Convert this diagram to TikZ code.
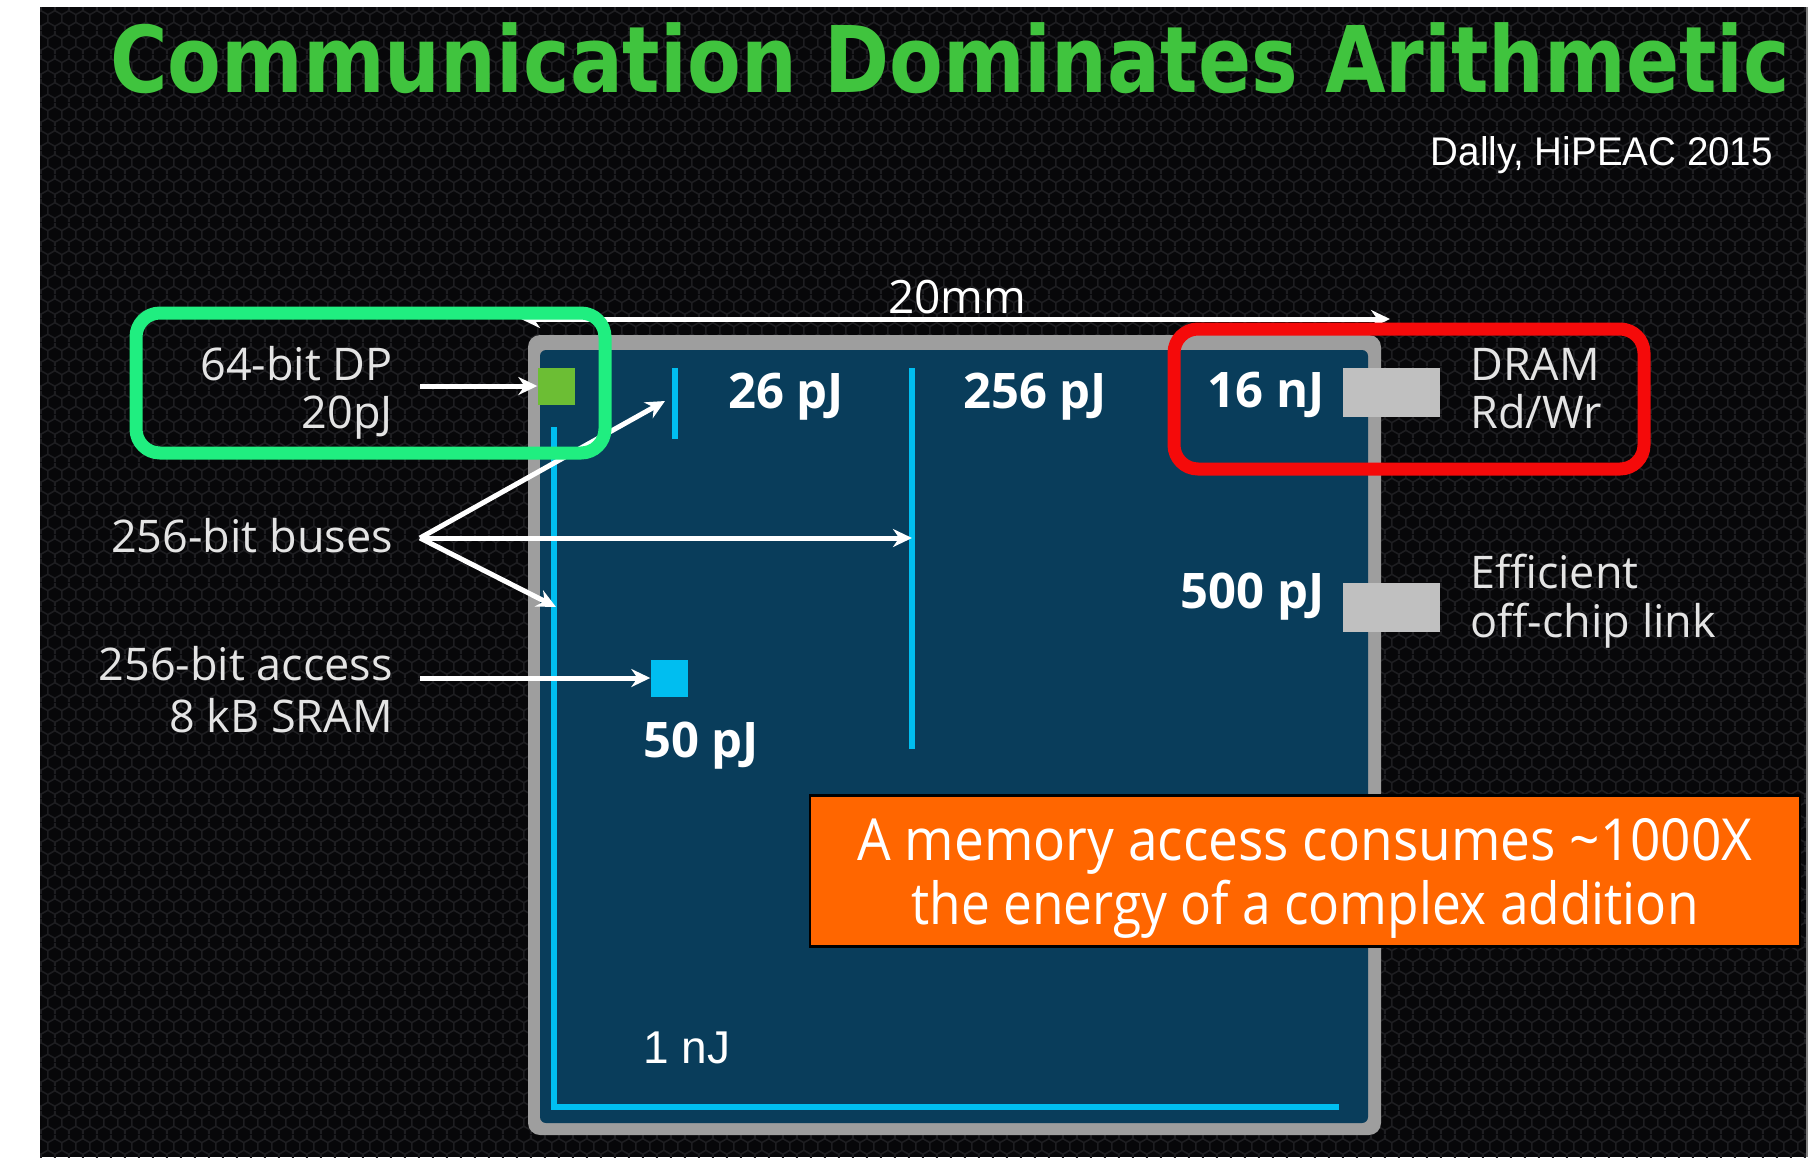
\documentclass[tikz,border=0pt]{standalone}
\usepackage{fontspec}
\usepackage{graphicx}
\setmainfont{Open Sans}
\newfontfamily\titlefont{DejaVu Sans}
\newfontfamily\arialfont{Liberation Sans}
\usetikzlibrary{arrows.meta,patterns}
\definecolor{bgblack}{RGB}{7,7,9}
\definecolor{hexline}{RGB}{30,30,33}
\definecolor{titlegreen}{RGB}{64,196,62}
\definecolor{chipblue}{RGB}{9,61,91}
\definecolor{chipgray}{RGB}{158,158,158}
\definecolor{wirecyan}{RGB}{0,190,240}
\definecolor{alugreen}{RGB}{108,190,52}
\definecolor{padgray}{RGB}{192,192,192}
\definecolor{boxgreen}{RGB}{32,238,128}
\definecolor{boxred}{RGB}{245,10,10}
\definecolor{noteorange}{RGB}{255,102,0}
\definecolor{labelgray}{RGB}{228,228,228}
\definecolor{edgegray}{RGB}{130,130,130}

\pgfdeclarepatternformonly{hexgrid}{\pgfpointorigin}{\pgfpoint{13.86pt}{24pt}}{\pgfpoint{13.86pt}{24pt}}{
  \pgfsetlinewidth{1.6pt}
  \pgfpathmoveto{\pgfpoint{0pt}{4pt}}
  \pgfpathlineto{\pgfpoint{6.93pt}{8pt}}
  \pgfpathlineto{\pgfpoint{13.86pt}{4pt}}
  \pgfpathmoveto{\pgfpoint{6.93pt}{8pt}}
  \pgfpathlineto{\pgfpoint{6.93pt}{16pt}}
  \pgfpathmoveto{\pgfpoint{0pt}{20pt}}
  \pgfpathlineto{\pgfpoint{6.93pt}{16pt}}
  \pgfpathlineto{\pgfpoint{13.86pt}{20pt}}
  \pgfpathmoveto{\pgfpoint{0pt}{0pt}}\pgfpathlineto{\pgfpoint{0pt}{4pt}}
  \pgfpathmoveto{\pgfpoint{13.86pt}{0pt}}\pgfpathlineto{\pgfpoint{13.86pt}{4pt}}
  \pgfpathmoveto{\pgfpoint{0pt}{20pt}}\pgfpathlineto{\pgfpoint{0pt}{24pt}}
  \pgfpathmoveto{\pgfpoint{13.86pt}{20pt}}\pgfpathlineto{\pgfpoint{13.86pt}{24pt}}
  \pgfusepath{stroke}
}

\tikzset{
  lbl/.style={text=labelgray, inner sep=0pt, font=\fontsize{45}{49}\selectfont},
  num/.style={text=white, inner sep=0pt, font=\fontsize{49}{53}\selectfont\bfseries},
  wire/.style={draw=wirecyan, line width=6pt},
  warrow/.style={draw=white, line width=5pt, -{Stealth[length=19pt,width=18pt]}},
  dimarrow/.style={draw=white, line width=5pt, {Stealth[length=19pt,width=18pt]}-{Stealth[length=19pt,width=18pt]}},
  pad/.style={fill=padgray, draw=none, minimum width=97pt, minimum height=49pt, inner sep=0pt},
  unit/.style={draw=none, minimum size=37pt, inner sep=0pt},
  hlbox/.style={line width=13pt, rounded corners=24pt},
  notetext/.style={text=white, inner sep=0pt, font=\fontsize{58}{62}\selectfont},
}

\begin{document}
\begin{tikzpicture}[x=1pt,y=-1pt]
\useasboundingbox (0,0) rectangle (1813,1157);
\fill[white] (0,0) rectangle (1813,1157);
% slide background
\fill[bgblack] (40,7) rectangle (1806,1157);
\fill[pattern=hexgrid, pattern color=hexline] (40,7) rectangle (1806,1157);
\draw[edgegray, line width=2pt] (1807,7) -- (1807,1157);

% title
\node[anchor=base west, inner sep=0pt, text=titlegreen, font=\titlefont\bfseries\fontsize{92}{96}\selectfont] (title) at (110,92)
  {\resizebox{1680pt}{\height}{Communication Dominates Arithmetic}};
\node[anchor=base east, inner sep=0pt, text=white, font=\arialfont\fontsize{40}{44}\selectfont] (cite) at (1773,165)
  {\resizebox{342pt}{\height}{Dally, HiPEAC 2015}};

% chip
\fill[chipgray, rounded corners=12pt] (528,335) rectangle (1381,1135);
\fill[chipblue, rounded corners=6pt] (540,350) rectangle (1368,1123);

% wires
\draw[wire] (675,368) -- (675,439);
\draw[wire] (912,368) -- (912,749);
\draw[wire] (554,427) -- (554,1107) -- (1339,1107);

% units and pads
\node[unit, fill=alugreen] (alu) at (556,386) {};
\node[unit, fill=wirecyan] (sram) at (669,678) {};
\node[pad] (dram) at (1391,392) {};
\node[pad] (link) at (1391,607) {};

% energy numbers
\node[num, anchor=base west] (n26) at (728,408) {26 pJ};
\node[num, anchor=base west] (n256) at (963,408) {256 pJ};
\node[num, anchor=base east] (n16) at (1325,407) {16 nJ};
\node[num, anchor=base east] (n500) at (1325,608) {500 pJ};
\node[num, anchor=base west] (n50) at (643,757) {50 pJ};
\node[anchor=base west, inner sep=0pt, text=white, font=\arialfont\fontsize{46}{50}\selectfont] (n1) at (643,1063) {1 nJ};

% dimension arrow
\coordinate (mmL) at (521,319);
\coordinate (mmR) at (1390,319);
\draw[dimarrow] (mmL) -- (mmR);
\node[lbl, anchor=base west, text=white, font=\fontsize{46}{50}\selectfont] (mm) at (888,313) {20mm};

% labels
\node[lbl, anchor=base east] (dp1) at (393,380) {64-bit DP};
\node[lbl, anchor=base east] (dp2) at (393,428) {20pJ};
\node[lbl, anchor=base east] (bus) at (393,552) {256-bit buses};
\node[lbl, anchor=base east] (sr1) at (393,680) {256-bit access};
\node[lbl, anchor=base east] (sr2) at (393,732) {8 kB SRAM};
\node[lbl, anchor=base west] (dr1) at (1470,380) {DRAM};
\node[lbl, anchor=base west] (dr2) at (1470,428) {Rd/Wr};
\node[lbl, anchor=base west] (lk1) at (1470,588) {Efficient};
\node[lbl, anchor=base west] (lk2) at (1470,637) {off-chip link};

% arrows
\coordinate (dpA) at (420,386);
\coordinate (busA) at (420,538);
\coordinate (srA) at (420,678);
\coordinate (busT1) at (665,401);
\coordinate (busT2) at (912,538);
\coordinate (busT3) at (556,607);
\draw[warrow] (dpA) -- (alu.west);
\draw[warrow] (busA) -- (busT1);
\draw[warrow] (busA) -- (busT2);
\draw[warrow] (busA) -- (busT3);
\draw[warrow] (srA) -- (sram.west);

% highlight boxes
\draw[hlbox, boxgreen] (136,313) rectangle (605,453);
\draw[hlbox, boxred] (1174,329) rectangle (1644,469);

% note
\node[fill=noteorange, draw=black, line width=2.5pt, minimum width=990pt, minimum height=151pt, inner sep=0pt] (note) at (1305,871) {};
\node[notetext, anchor=base] (note1) at (1305,860) {\resizebox{895pt}{\height}{A memory access consumes \textasciitilde1000X}};
\node[notetext, anchor=base] (note2) at (1305,924) {\resizebox{787pt}{\height}{the energy of a complex addition}};
\end{tikzpicture}
\end{document}
